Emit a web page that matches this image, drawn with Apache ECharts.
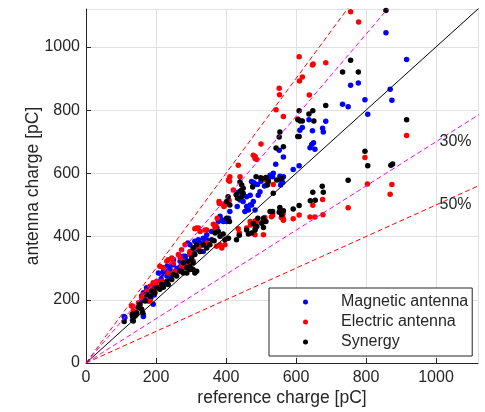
<!DOCTYPE html>
<html>
<head>
<meta charset="utf-8">
<script src="https://cdn.jsdelivr.net/npm/echarts@6/dist/echarts.min.js"></script>
<style>
  html, body { margin: 0; padding: 0; background: #fff; }
  #chart { width: 485px; height: 412px; }
</style>
</head>
<body>
<div id="chart"></div>
<script>
// reference charge vs antenna charge, pC
const magnetic = [
  [109,147],[111,144],[133,135],[135,149],[164,147],[164,152],[159,196],[159,212],[164,201],[164,222],
  [169,207],[173,238],[178,196],[185,205],[188,243],[192,186],[192,248],[170,225],[180,230],[195,215],
  [200,240],[211,259],[207,285],[216,280],[221,290],[221,301],[226,290],[231,275],[232,306],[240,296],
  [245,311],[249,311],[250,327],[215,265],[225,250],[240,270],[255,285],[260,300],[269,322],[270,305],
  [278,338],[283,332],[283,338],[288,322],[291,380],[297,343],[297,348],[297,374],[306,353],[311,364],
  [311,385],[316,358],[321,369],[321,390],[326,380],[335,353],[335,374],[335,395],[340,385],[345,390],
  [345,406],[359,416],[369,432],[374,427],[378,448],[383,464],[388,453],[392,448],[402,448],[407,458],
  [411,479],[432,495],[435,540],[440,516],[449,511],[454,479],[459,495],[459,526],[464,484],[469,531],
  [473,500],[473,574],[478,511],[478,563],[492,531],[497,542],[469,500],[483,484],[480,570],[490,565],
  [500,575],[510,560],[518,565],[521,584],[526,594],[535,600],[533,589],[542,629],[552,673],[554,579],
  [554,591],[556,563],[559,584],[562,571],[564,589],[564,652],[592,612],[609,624],[611,736],[618,745],
  [637,770],[640,681],[645,691],[647,735],[650,697],[654,676],[676,743],[678,731],[685,765],[733,819],
  [749,811],[756,879],[778,886],[797,833],[805,787],[857,1045],[869,866],[874,831],[916,960]
];
const electric = [
  [130,180],[133,180],[132,154],[135,165],[145,154],[148,175],[150,191],[154,180],[159,207],[164,217],
  [173,228],[178,212],[183,196],[183,243],[192,228],[192,254],[202,243],[202,259],[211,306],[216,259],
  [221,301],[231,322],[235,285],[235,327],[245,332],[249,317],[254,290],[264,343],[269,333],[273,306],
  [273,358],[278,322],[283,301],[283,374],[288,311],[297,343],[297,353],[306,322],[311,364],[311,425],
  [316,427],[321,427],[326,369],[326,416],[340,421],[345,380],[345,421],[364,439],[369,425],[371,435],
  [373,369],[375,458],[381,505],[383,374],[388,364],[397,374],[380,511],[390,502],[394,495],[397,500],
  [405,511],[407,579],[409,514],[410,575],[411,589],[421,547],[435,425],[435,626],[438,411],[440,589],
  [459,427],[470,437],[469,448],[478,657],[483,647],[488,448],[505,448],[511,460],[483,406],[507,406],
  [484,450],[509,448],[530,463],[533,474],[533,467],[554,479],[554,483],[558,460],[563,472],[562,463],
  [564,452],[564,455],[592,456],[609,468],[640,462],[654,462],[648,499],[676,517],[677,469],[749,491],
  [804,566],[869,534],[874,565],[916,720],[797,650],[535,565],[514,579],[483,653],[488,644],[500,693],
  [543,801],[552,869],[553,849],[564,780],[605,772],[610,892],[618,905],[609,969],[638,848],[647,943],
  [649,946],[685,950],[756,1111],[779,1079]
];
const synergy = [
  [109,131],[133,147],[133,154],[135,133],[140,149],[145,159],[150,177],[159,170],[154,186],[162,159],
  [169,196],[173,217],[183,212],[188,228],[197,222],[202,238],[211,233],[216,248],[221,240],[231,259],
  [235,248],[245,264],[249,280],[259,275],[269,290],[278,285],[288,301],[297,296],[306,317],[316,290],
  [311,285],[316,374],[306,364],[326,353],[311,343],[302,332],[292,322],[278,317],[297,306],[288,285],
  [273,290],[306,296],[335,374],[345,364],[354,374],[359,390],[366,387],[369,411],[378,416],[383,401],
  [392,408],[397,390],[402,458],[410,448],[402,511],[406,526],[411,500],[407,395],[430,390],[438,404],
  [459,421],[464,408],[473,411],[483,421],[488,432],[502,442],[514,448],[526,479],[533,479],[552,477],
  [554,492],[559,469],[564,482],[592,487],[609,498],[641,513],[655,515],[648,540],[678,540],[675,559],
  [749,578],[805,624],[871,626],[876,630],[797,670],[916,770],[478,441],[484,427],[507,429],[491,458],
  [507,458],[476,557],[486,589],[499,586],[514,587],[521,574],[535,537],[429,532],[433,521],[442,545],
  [445,527],[449,537],[440,573],[445,563],[449,553],[504,584],[518,563],[545,579],[559,584],[543,680],
  [564,684],[552,715],[554,731],[605,717],[609,717],[606,770],[612,766],[618,766],[651,766],[637,788],
  [609,798],[648,798],[685,815],[733,921],[778,921],[756,958],[857,1115]
];

const seriesNames = ['Magnetic antenna', 'Electric antenna', 'Synergy'];
const seriesColors = ['#0000ff', '#ff0000', '#000000'];

// ratio lines y = k * x
const ratios = [1.5, 1.3, 1, 0.7, 0.5];
const ratioColors = ['#ff0000', '#ff00ff', '#000000', '#ff00ff', '#ff0000'];
const ratioDashed = [true, true, false, true, true];

const annoText = ['30%', '50%'];
const annoPos = [[1010, 700], [1010, 500]];

const axisMax = 1120;
const font = '"Liberation Sans", Arial, Helvetica, sans-serif';
const ink = '#262626';

const chart = echarts.init(document.getElementById('chart'), null, { renderer: 'canvas' });

const axisCommon = {
  type: 'value',
  min: 0,
  max: axisMax,
  interval: 200,
  nameLocation: 'middle',
  nameMoveOverlap: false,
  nameTextStyle: { color: ink, fontSize: 17.5, fontFamily: font },
  axisLine: { show: true, onZero: false, lineStyle: { color: ink, width: 1 } },
  axisTick: { show: true, inside: true, length: 5, lineStyle: { color: ink } },
  axisLabel: { color: ink, fontSize: 16, fontFamily: font, showMaxLabel: false,
    formatter: (v) => String(v) },
  splitLine: { show: true, lineStyle: { color: '#e0e0e0', width: 1 } },
};

const scatterSeries = [magnetic, electric, synergy].map((d, i) => ({
  name: seriesNames[i],
  type: 'scatter',
  data: d,
  symbol: 'circle',
  symbolSize: 5.5,
  itemStyle: { color: seriesColors[i], opacity: 1 },
  silent: true,
}));

const lineSeries = ratios.map((k, i) => ({
  type: 'line',
  data: [[0, 0], [axisMax * 2, axisMax * 2 * k]],
  symbol: 'none',
  clip: true,
  lineStyle: {
    color: ratioColors[i],
    width: 1,
    type: ratioDashed[i] ? [5, 3] : 'solid',
  },
  silent: true,
}));

chart.setOption({
  animation: false,
  backgroundColor: '#fff',
  grid: { left: 86, right: 7, top: 9, bottom: 46, containLabel: false },
  xAxis: Object.assign({}, axisCommon, { name: 'reference charge [pC]', nameGap: 26,
    axisLabel: Object.assign({}, axisCommon.axisLabel, { margin: 7 }) }),
  yAxis: Object.assign({}, axisCommon, { name: 'antenna charge [pC]', nameGap: 44,
    axisLabel: Object.assign({}, axisCommon.axisLabel, { margin: 6 }) }),
  legend: {
    data: seriesNames,
    orient: 'vertical',
    left: 269,
    top: 288,
    padding: [4, 4, 4, 34],
    itemGap: 0,
    itemWidth: 5,
    itemHeight: 5,
    icon: 'circle',
    backgroundColor: '#fff',
    borderColor: ink,
    borderWidth: 1,
    borderRadius: 0,
    selectedMode: false,
    textStyle: { color: ink, fontSize: 16, fontFamily: font, lineHeight: 20, padding: [0, 0, 0, 28] },
  },
  series: [...scatterSeries, ...lineSeries],
});

// percentage annotations placed at data coordinates
chart.setOption({
  graphic: annoPos.map((p, i) => {
    const px = chart.convertToPixel({ gridIndex: 0 }, p);
    return {
      type: 'text',
      x: px[0],
      y: px[1],
      z: 100,
      style: { text: annoText[i], fill: ink, font: '16px ' + font, textAlign: 'left', textVerticalAlign: 'middle' },
      silent: true,
    };
  }),
});
</script>
</body>
</html>
